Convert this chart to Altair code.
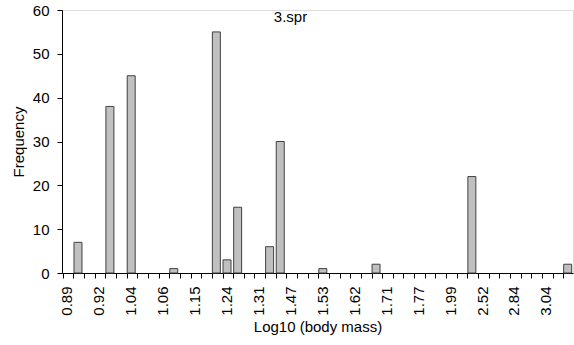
import json
import altair as alt
import pandas as pd

# Category axis: 48 classes, a label shown on every third class
tick_labels = ["0.89", "0.92", "1.04", "1.06", "1.15", "1.24", "1.31", "1.47",
               "1.53", "1.62", "1.71", "1.77", "1.99", "2.52", "2.84", "3.04"]
n_categories = 48
bar_positions = [1, 4, 6, 10, 14, 15, 16, 19, 20, 24, 29, 38, 47]
frequencies = [7, 38, 45, 1, 55, 3, 15, 6, 30, 1, 2, 22, 2]

df = pd.DataFrame({"cat": bar_positions, "freq": frequencies})

FONT = "Liberation Sans"
FS = 15
label_expr = ("datum.value % 3 == 0 ? " + json.dumps(tick_labels) +
              "[datum.value / 3] : ''")

chart = alt.Chart(df).mark_bar(
    fill="#c0c0c0", stroke="#404040", strokeWidth=1
).encode(
    x=alt.X("cat:O",
            scale=alt.Scale(domain=list(range(n_categories)),
                            paddingInner=0.25, paddingOuter=0.125),
            axis=alt.Axis(title="Log10 (body mass)", labelAngle=-90,
                          labelExpr=label_expr, bandPosition=0,
                          tickSize=5, labelPadding=8, titlePadding=4,
                          labelFontSize=FS, titleFontSize=FS,
                          titleFontWeight="normal", domainColor="black",
                          tickColor="black", labelColor="black",
                          titleColor="black", labelFont=FONT, titleFont=FONT,
                          labelOverlap=False)),
    y=alt.Y("freq:Q",
            scale=alt.Scale(domain=[0, 60], nice=False),
            axis=alt.Axis(title="Frequency", values=[0, 10, 20, 30, 40, 50, 60],
                          grid=False, tickSize=5, labelPadding=8,
                          titlePadding=6, labelFontSize=FS, titleFontSize=FS,
                          titleFontWeight="normal", domainColor="black",
                          tickColor="black", labelColor="black",
                          titleColor="black", labelFont=FONT, titleFont=FONT)),
).properties(
    width=511,
    height=263,
    title=alt.TitleParams("3.spr", fontSize=FS, font=FONT, fontWeight="normal",
                          color="black", offset=-22, dx=-27),
    autosize=alt.AutoSizeParams(type="none"),
    padding={"left": 62, "top": 10, "right": 1, "bottom": 72},
).configure_view(stroke=None).configure(background="white")

chart.save("out.html", embed_options={"renderer": "svg", "actions": False})
